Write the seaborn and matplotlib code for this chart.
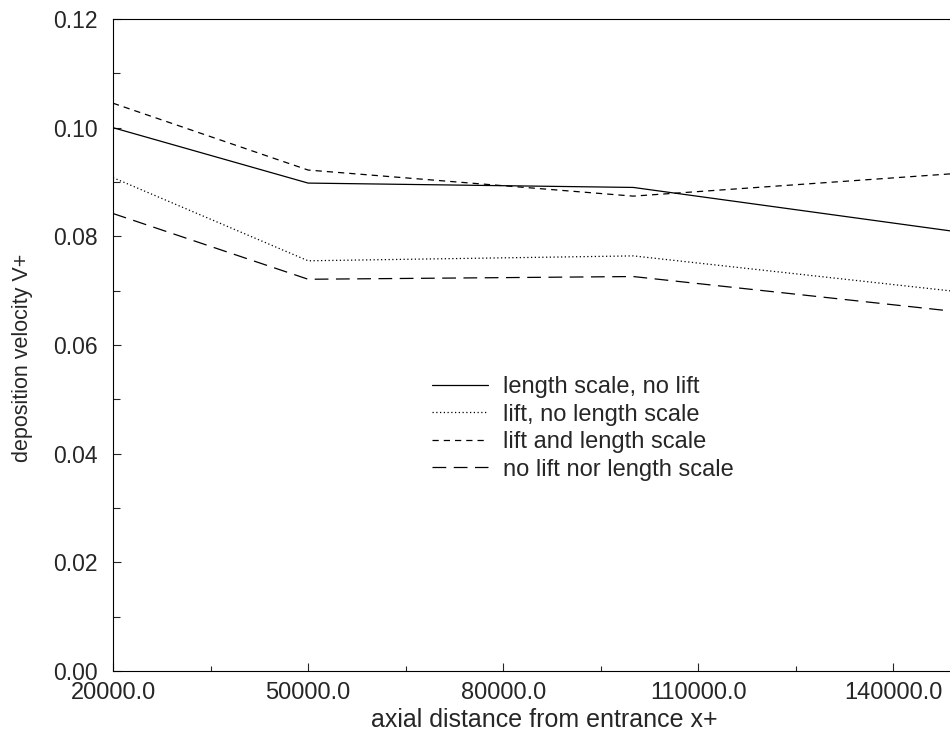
import numpy as np
import pandas as pd
import matplotlib
matplotlib.use("Agg")
import matplotlib.pyplot as plt
import seaborn as sns

x_vals = [20000, 50000, 100000, 150000]
series_names = ["length scale, no lift", "lift, no length scale",
                "lift and length scale", "no lift nor length scale"]
length_scale_no_lift = [0.1000, 0.0898, 0.0890, 0.0808]
lift_no_length_scale = [0.0908, 0.0755, 0.0764, 0.0698]
lift_and_length_scale = [0.1045, 0.0922, 0.0874, 0.0916]
no_lift_nor_length = [0.0842, 0.0721, 0.0726, 0.0661]
x_ticks = [20000, 50000, 80000, 110000, 140000]
x_tick_labels = ["20000.0", "50000.0", "80000.0", "110000.0", "140000.0"]
y_ticks = [0.00, 0.02, 0.04, 0.06, 0.08, 0.10, 0.12]

sns.set_theme(style="ticks")
plt.rcParams['font.family'] = ['Liberation Sans', 'DejaVu Sans']

rows = []
for name, vals in zip(series_names, [length_scale_no_lift, lift_no_length_scale,
                                     lift_and_length_scale, no_lift_nor_length]):
    for xv, yv in zip(x_vals, vals):
        rows.append({"x": xv, "y": yv, "series": name})
df = pd.DataFrame(rows)

fig = plt.figure(figsize=(9.5, 7.34), dpi=100)
ax = fig.add_axes([113/950, 63/734, 837/950, 652/734])

dashes = {
    "length scale, no lift": "",
    "lift, no length scale": (1, 2),
    "lift and length scale": (5, 4),
    "no lift nor length scale": (11, 6),
}
palette = {n: "black" for n in series_names}
sns.lineplot(data=df, x="x", y="y", hue="series", style="series",
             dashes=dashes, palette=palette, linewidth=0.9, ax=ax,
             hue_order=series_names, style_order=series_names)

ax.set_xlim(20000, 148700)
ax.set_ylim(0, 0.12)
ax.set_xticks(x_ticks)
ax.set_xticklabels(x_tick_labels)
ax.set_xticks([35000, 65000, 95000, 125000], minor=True)
ax.set_yticks(y_ticks)
ax.set_yticklabels([f"{v:.2f}" for v in y_ticks])
ax.set_yticks(np.arange(0.01, 0.12, 0.02), minor=True)
ax.tick_params(axis='x', which='major', direction='in', length=6, width=0.8,
               labelsize=17, pad=8)
ax.tick_params(axis='x', which='minor', direction='in', length=3.5, width=0.8)
ax.tick_params(axis='y', which='major', direction='in', length=6, width=0.8,
               labelsize=16.5, pad=11)
ax.tick_params(axis='y', which='minor', direction='in', length=5, width=0.8)
for s in ["left", "bottom", "top"]:
    ax.spines[s].set_linewidth(0.8)
    ax.spines[s].set_color("black")
ax.spines["right"].set_visible(False)

ax.set_xlabel("axial distance from entrance x+", fontsize=18, va="top")
ax.xaxis.set_label_coords(0.515, -0.057)
ax.set_ylabel("deposition velocity V+", fontsize=15.5)
ax.yaxis.set_label_coords(-0.095, 0.48)

handles, labels = ax.get_legend_handles_labels()
ax.legend(handles=handles, labels=labels, loc="upper left",
          bbox_to_anchor=(0.381, 0.452), frameon=False, fontsize=17,
          handlelength=2.37, handletextpad=0.64, labelspacing=0.23,
          borderaxespad=0, borderpad=0)

fig.savefig("out.png", dpi=100)
